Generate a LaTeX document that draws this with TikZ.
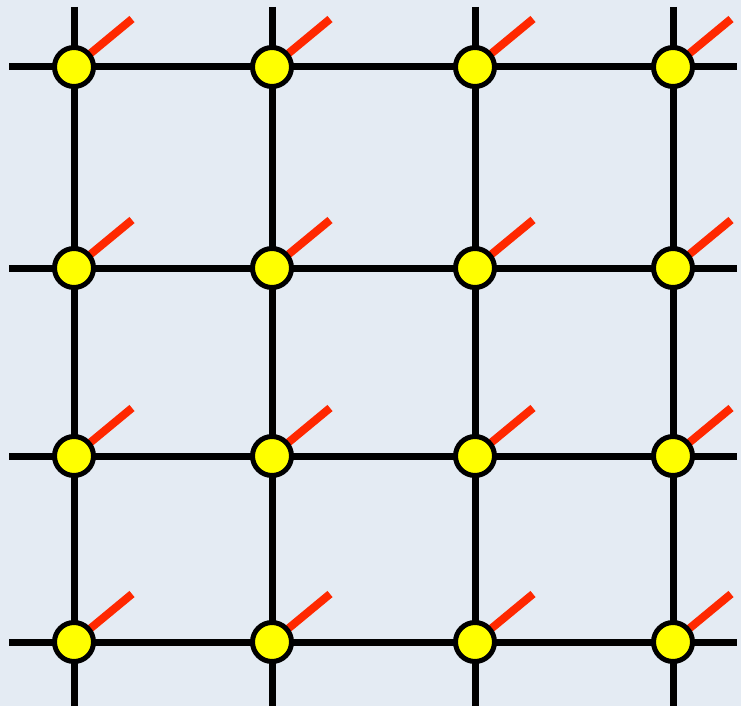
\documentclass[tikz,border=0pt]{standalone}
\definecolor{paper}{RGB}{228,235,243}
\definecolor{spinred}{RGB}{255,40,0}
\definecolor{siteyellow}{RGB}{255,255,0}
\tikzset{
  bond/.style={line width=7pt, black},
  spin/.style={line width=8pt, spinred},
  site/.style={circle, draw=black, line width=5pt, fill=siteyellow, minimum size=39pt, inner sep=0pt},
}
\begin{document}
\begin{tikzpicture}[x=1pt, y=-1pt]
    \fill[paper] (0,0) rectangle (741,706);
    \useasboundingbox (0,0) rectangle (741,706);
    % lattice points
    \foreach \x [count=\i] in {74,272,475,673} {
        \foreach \y [count=\j] in {67,268,456,642} {
            \coordinate (p-\i-\j) at (\x,\y);
        }
        \coordinate (top-\i) at (\x,7);
        \coordinate (bot-\i) at (\x,712);
    }
    \foreach \y [count=\j] in {67,268,456,642} {
        \coordinate (left-\j) at (9,\y);
        \coordinate (right-\j) at (737,\y);
    }
    % bonds
    \foreach \i in {1,...,4} {
        \draw[bond] (top-\i) -- (p-\i-1) -- (p-\i-2) -- (p-\i-3) -- (p-\i-4) -- (bot-\i);
        \draw[bond] (left-\i) -- (p-1-\i) -- (p-2-\i) -- (p-3-\i) -- (p-4-\i) -- (right-\i);
    }
    % spins and sites
    \foreach \i in {1,...,4} {
        \foreach \j in {1,...,4} {
            \draw[spin] (p-\i-\j) -- ++(58,-48);
            \node[site] (s-\i-\j) at (p-\i-\j) {};
        }
    }
\end{tikzpicture}
\end{document}
